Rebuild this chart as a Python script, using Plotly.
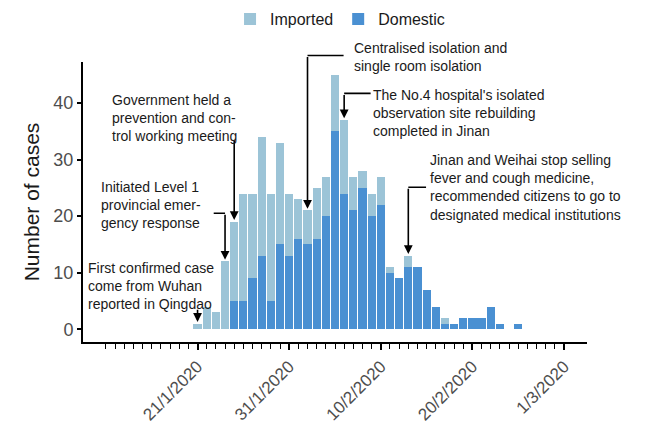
import pandas as pd
import plotly.graph_objects as go

# ---------------- data ----------------
dates = ["2020-01-21", "2020-01-22", "2020-01-23", "2020-01-24", "2020-01-25",
         "2020-01-26", "2020-01-27", "2020-01-28", "2020-01-29", "2020-01-30",
         "2020-01-31", "2020-02-01", "2020-02-02", "2020-02-03", "2020-02-04",
         "2020-02-05", "2020-02-06", "2020-02-07", "2020-02-08", "2020-02-09",
         "2020-02-10", "2020-02-11", "2020-02-12", "2020-02-13", "2020-02-14",
         "2020-02-15", "2020-02-16", "2020-02-17", "2020-02-18", "2020-02-19",
         "2020-02-20", "2020-02-21", "2020-02-22", "2020-02-23", "2020-02-24",
         "2020-02-25"]
imported = [1, 4, 3, 12, 14, 19, 15, 21, 19, 18, 11, 7, 6, 9, 7, 10, 13, 6, 3, 4,
            5, 1, 0, 2, 0, 0, 0, 1, 0, 0, 0, 0, 0, 0, 0, 0]
domestic = [0, 0, 0, 0, 5, 5, 9, 13, 5, 15, 13, 16, 15, 16, 20, 35, 24, 21, 25, 20,
            22, 10, 9, 11, 11, 7, 4, 1, 1, 2, 2, 2, 4, 1, 0, 1]

major_tick_dates = ["2020-01-21", "2020-01-31", "2020-02-10", "2020-02-20", "2020-03-01"]
major_tick_labels = ["21/1/2020", "31/1/2020", "10/2/2020", "20/2/2020", "1/3/2020"]
minor_tick_start, minor_tick_end = "2020-01-11", "2020-03-01"
y_tick_vals = [0, 10, 20, 30, 40]
y_range = [-2.25, 47.25]
x_range = ["2020-01-08 12:00", "2020-03-03 12:00"]

# events: date of the bar, annotation text, text offset (days), text centre (cases),
# elbow height (cases), tail start offset (days, 0 = straight arrow)
event_dates = ["2020-01-21", "2020-01-24", "2020-01-25", "2020-02-02", "2020-02-06", "2020-02-13"]
event_texts = [
    "First confirmed case<br>come from Wuhan<br>reported in Qingdao",
    "Initiated Level 1<br>provincial emer-<br>gency response",
    "Government held a<br>prevention and con-<br>trol working meeting",
    "Centralised isolation and<br>single room isolation",
    "The No.4 hospital's isolated<br>observation site rebuilding<br>completed in Jinan",
    "Jinan and Weihai stop selling<br>fever and cough medicine,<br>recommended citizens to go to<br>designated medical institutions",
]
event_text_dx = [-12.2, -13.8, -13.5, 4.9, 2.9, 2.1]
event_text_y = [7.6, 21.9, 37.4, 48.2, 38.2, 25.0]
event_elbow_y = [3.7, 20.5, 33.7, 48.4, 41.7, 25.1]
event_tail_dx = [0.0, -1.4, 0.0, 4.1, 3.05, 2.1]

# ---------------- figure ----------------
c_imp = "#9cc4d7"
c_dom = "#4a90d2"
fig = go.Figure()
fig.add_trace(go.Bar(x=dates, y=domestic, name="Domestic", marker_color=c_dom,
                     marker_line_width=0, legendrank=2))
fig.add_trace(go.Bar(x=dates, y=imported, name="Imported", marker_color=c_imp,
                     marker_line_width=0, legendrank=1))

totals = [a + b for a, b in zip(imported, domestic)]
total_by_date = dict(zip(dates, totals))


def shift(d, days):
    return (pd.Timestamp(d) + pd.Timedelta(days=days)).strftime("%Y-%m-%d %H:%M:%S")


def dom(v):
    """Convert a case count to the fraction of the y axis domain (same scale)."""
    return (v - y_range[0]) / (y_range[1] - y_range[0])


annotations = []
line_style = dict(arrowcolor="black", arrowwidth=1.6, standoff=0, startstandoff=0)
for d, txt, tdx, ty, ey, tail in zip(event_dates, event_texts, event_text_dx,
                                     event_text_y, event_elbow_y, event_tail_dx):
    top = total_by_date[d]
    # vertical arrow to the bar
    annotations.append(dict(x=d, y=dom(top + 0.3), ax=d, ay=dom(ey),
                            xref="x", yref="y domain", axref="x", ayref="y domain",
                            text="", showarrow=True, arrowhead=2, arrowsize=1.1,
                            **line_style))
    # horizontal elbow segment
    if tail != 0:
        annotations.append(dict(x=d, y=dom(ey), ax=shift(d, tail), ay=dom(ey),
                                xref="x", yref="y domain", axref="x", ayref="y domain",
                                text="", showarrow=True, arrowhead=0, **line_style))
    annotations.append(dict(x=shift(d, tdx), y=dom(ty), xref="x", yref="y domain",
                            text=txt, showarrow=False, xanchor="left", yanchor="middle",
                            align="left",
                            font=dict(family="Liberation Sans, Arial", size=14,
                                      color="#1a1a1a")))

minor_vals = [t.strftime("%Y-%m-%d") for t in pd.date_range(minor_tick_start, minor_tick_end)]

fig.update_layout(
    template="none",
    width=652, height=426,
    barmode="stack", bargap=0.1,
    plot_bgcolor="white", paper_bgcolor="white",
    margin=dict(l=83, r=65, t=62, b=84, autoexpand=False),
    font=dict(family="Liberation Sans, Arial", color="#4d4d4d"),
    legend=dict(orientation="h", x=0.51, xanchor="center", y=0.955, yanchor="middle",
                yref="container", traceorder="normal",
                font=dict(size=16, color="#1a1a1a"), itemwidth=30,
                bgcolor="rgba(0,0,0,0)"),
    annotations=annotations,
    showlegend=True,
)
fig.update_xaxes(
    type="date", range=x_range, automargin=False,
    tickmode="array", tickvals=major_tick_dates, ticktext=major_tick_labels,
    tickangle=-45, tickfont=dict(size=17, color="#4d4d4d"),
    ticks="outside", ticklen=6, tickwidth=2, tickcolor="black",
    showline=True, linecolor="black", linewidth=2, showgrid=False, zeroline=False,
    minor=dict(tickmode="array", tickvals=minor_vals, ticks="outside", ticklen=5,
               tickwidth=1, tickcolor="black", showgrid=False),
)
fig.update_yaxes(
    range=y_range, automargin=False, tickmode="array", tickvals=y_tick_vals,
    tickfont=dict(size=18, color="#4d4d4d"),
    ticks="outside", ticklen=4, tickwidth=1.5, tickcolor="black",
    showline=True, linecolor="black", linewidth=2, showgrid=False, zeroline=False,
    title=dict(text="Number of cases", font=dict(size=21, color="#1a1a1a"), standoff=8),
)

fig.write_html("out.html", config={"displayModeBar": False},
               post_script="document.body.style.margin='0';document.body.style.overflow='hidden';")
